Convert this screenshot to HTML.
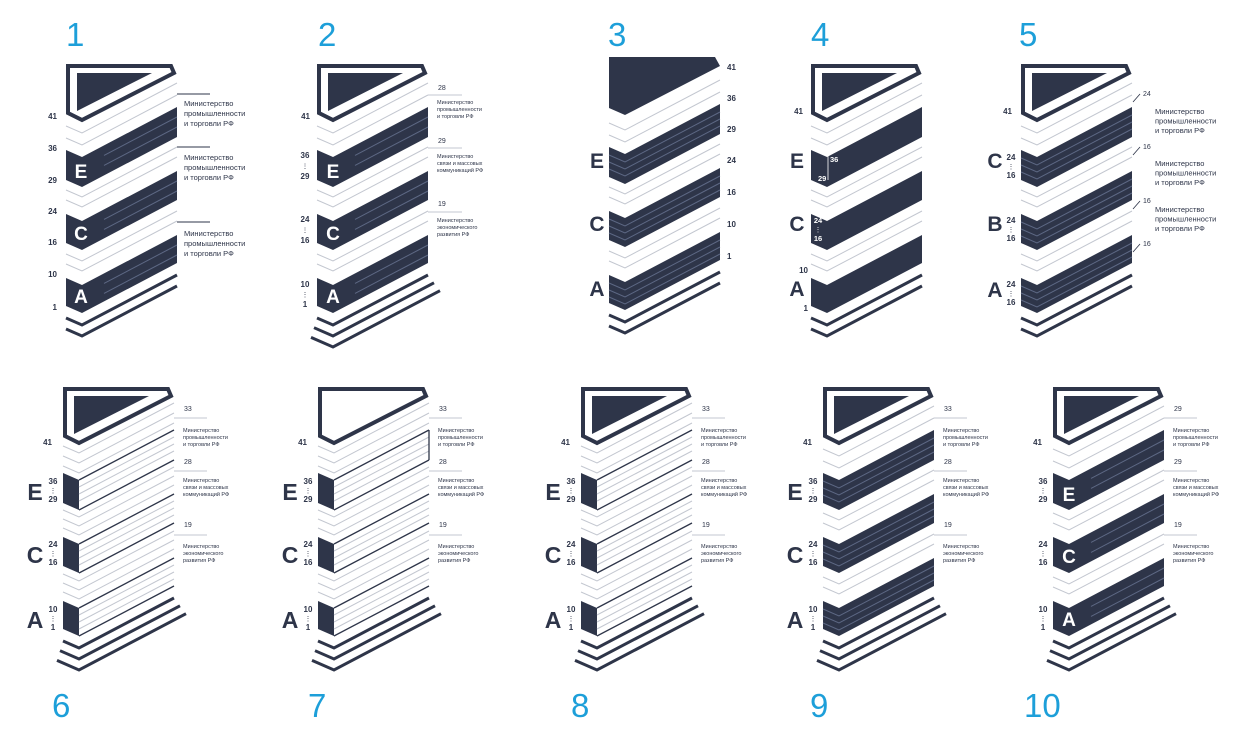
<!DOCTYPE html>
<html><head><meta charset="utf-8">
<style>
html,body{margin:0;padding:0;background:#fff;}
svg{display:block;}
text{font-family:"Liberation Sans",sans-serif;}
</style></head>
<body>
<svg id="s" width="1244" height="751" viewBox="0 0 1244 751" xmlns="http://www.w3.org/2000/svg"></svg>
<script>
var S=document.getElementById('s');
var D='#2e3549', G='#c3c7d0', L='#5d6884', B='#1d9fd9';
var K=50/95;
function el(n,a,txt){var e=document.createElementNS('http://www.w3.org/2000/svg',n);for(var k in a)e.setAttribute(k,a[k]);if(txt!==undefined)e.textContent=txt;S.appendChild(e);return e;}
function pl(pts,st,w){el('polyline',{points:pts,fill:'none',stroke:st,'stroke-width':w});}
function pg(pts,f,st,w){var a={points:pts,fill:f};if(st){a.stroke=st;a['stroke-width']=w;}el('polygon',a);}
function t(x,y,s,sz,fill,anc,wt){el('text',{x:x,y:y,'font-size':sz,fill:fill||D,'text-anchor':anc||'start','font-weight':wt||'bold'},s);}
function chev(x0,v,xl,xr){var xv=x0+16;xl=(xl===undefined)?x0:xl;xr=xr||x0+111;return xl+','+(v-7*(xv-xl)/16)+' '+xv+','+v+' '+xr+','+(v-K*(xr-xv));}
function arm(x0,v,xa,xr){var xv=x0+16;return xa+','+(v-K*(xa-xv))+' '+xr+','+(v-K*(xr-xv));}

function panel(o){
 var x0=o.x, oy=o.oy, xv=x0+16, xr=x0+111;
 if(o.cap==='solid'){
   pg(x0+','+(60+oy)+' '+(x0+106)+','+(60+oy)+' '+(x0+111)+','+(69+oy)+' '+xv+','+(118+oy)+' '+x0+','+(111+oy),D);
 } else {
   pg((x0+2)+','+(66+oy)+' '+(x0+105)+','+(66+oy)+' '+(x0+108)+','+(73+oy)+' '+xv+','+(120+oy)+' '+(x0+2)+','+(113+oy),'#fff',D,4);
   if(o.cap==='tri') pg((x0+11)+','+(73+oy)+' '+(x0+86)+','+(73+oy)+' '+(x0+11)+','+(111+oy),D);
 }
 var gaps=[133,145,197,207,261,271];
 if(o.style==='leftdark') gaps=[130,140,150,194,203,212,258,267,276];
 gaps.forEach(function(v){pl(chev(x0,v+oy),G,1);});
 var bands=[[157,187],[221,250],[285,313]];
 bands.forEach(function(b,i){
   var tp=b[0]+oy, bt=b[1]+oy;
   if(o.style==='leftdark'){
     pg(x0+','+(tp-7)+' '+xv+','+tp+' '+xv+','+bt+' '+x0+','+(bt-7),D);
     [7,14,21].forEach(function(d){pl(arm(x0,tp+d,xv,xr),G,1);});
     pl(arm(x0,tp,xv,xr),D,1.3);pl(arm(x0,bt,xv,xr),D,1.3);
     if(o.box&&i===0){pl(xr+','+(tp-K*95)+' '+xr+','+(bt-K*95),D,1.3);}
   } else {
     pg(x0+','+(tp-7)+' '+xv+','+tp+' '+xr+','+(tp-K*95)+' '+xr+','+(bt-K*95)+' '+xv+','+bt+' '+x0+','+(bt-7),D);
     if(o.style==='dark2'){[10,20].forEach(function(d){pl(arm(x0,tp+d,xv+22,xr),L,1);});}
     if(o.style==='dark3'){[8,15,22].forEach(function(d){pl(chev(x0,tp+d),L,1);});}
   }
 });
 if(o.n===2){[325,336].forEach(function(v){pl(chev(x0,v+oy),D,3);});}
 else{[[325,0,0],[336,3,6],[347,6,12]].forEach(function(a){pl(chev(x0,a[0]+oy,x0-a[1],xr+a[2]),D,3);});}
}

panel({x:66,oy:0,cap:'tri',style:'dark2',n:2});
panel({x:317,oy:0,cap:'tri',style:'dark2',n:3});
panel({x:609,oy:-3,cap:'solid',style:'dark3',n:2});
panel({x:811,oy:0,cap:'tri',style:'dark',n:2});
panel({x:1021,oy:0,cap:'tri',style:'dark3',n:2});
panel({x:63,oy:323,cap:'tri',style:'leftdark',n:3});
panel({x:318,oy:323,cap:'outline',style:'leftdark',n:3,box:true});
panel({x:581,oy:323,cap:'tri',style:'leftdark',n:3});
panel({x:823,oy:323,cap:'tri',style:'dark3',n:3});
panel({x:1053,oy:323,cap:'tri',style:'dark2',n:3});

[['1',66,46],['2',318,46],['3',608,46],['4',811,46],['5',1019,46],['6',52,717],['7',308,717],['8',571,717],['9',810,717],['10',1024,717]].forEach(function(a){t(a[1],a[2],a[0],33,B,'start','normal');});

var M1=['Министерство','промышленности','и торговли РФ'];
var M2=['Министерство','связи и массовых','коммуникаций РФ'];
var M3=['Министерство','экономического','развития РФ'];
function lab(x,y,lines,sz,dy){lines.forEach(function(s,i){t(x,y+i*dy,s,sz,D,'start','normal');});}
function hl(x1,x2,y,c){pl(x1+','+y+' '+x2+','+y,c||G,1);}

[['41',119],['36',151],['29',183],['24',214],['16',245],['10',277],['1',310]].forEach(function(a){t(57,a[1],a[0],8,D,'end');});
t(81,178,'E',19,'#fff','middle');t(81,240,'C',19,'#fff','middle');t(81,303,'A',19,'#fff','middle');
hl(177,210,94,D);hl(177,210,147,D);hl(177,210,222,D);
lab(184,106,M1,7.5,10);lab(184,160,M1,7.5,10);lab(184,236,M1,7.5,10);

function stack(x,y1,a,b,gap){t(x,y1,a,8,D,'middle');t(x,y1+gap/2,'⋮',7,D,'middle','normal');t(x,y1+gap,b,8,D,'middle');}
t(310,119,'41',8,D,'end');
stack(305,158,'36','29',21);stack(305,222,'24','16',21);stack(305,287,'10','1',20);
t(333,178,'E',19,'#fff','middle');t(333,240,'C',19,'#fff','middle');t(333,303,'A',19,'#fff','middle');
function rlab(xr,oy){
 hl(xr,xr+34,95+oy);hl(xr,xr+34,148+oy);hl(xr,xr+34,212+oy);
 t(xr+10,90+oy,'28',7,D,'start','normal');t(xr+10,143+oy,'29',7,D,'start','normal');t(xr+10,206+oy,'19',7,D,'start','normal');
 lab(xr+9,104+oy,M1,5.5,7);lab(xr+9,158+oy,M2,5.5,7);lab(xr+9,222+oy,M3,5.5,7);
}
rlab(428,0);

[['41',70],['36',101],['29',132],['24',163],['16',195],['10',227],['1',259]].forEach(function(a){t(727,a[1],a[0],8,D,'start');});
t(597,168,'E',21,D,'middle');t(597,231,'C',21,D,'middle');t(597,296,'A',21,D,'middle');

t(797,168,'E',21,D,'middle');t(797,231,'C',21,D,'middle');t(797,296,'A',21,D,'middle');
t(803,114,'41',8,D,'end');t(808,273,'10',8,D,'end');t(808,311,'1',8,D,'end');
pl('828,150 828,180','#fff',0.8);
t(830,162,'36',7.5,'#fff','start');t(818,181,'29',7.5,'#fff','start');
t(818,223,'24',7.5,'#fff','middle');t(818,232,'⋮',7,'#fff','middle','normal');t(818,241,'16',7.5,'#fff','middle');

t(995,168,'C',21,D,'middle');t(995,231,'B',21,D,'middle');t(995,297,'A',21,D,'middle');
t(1012,114,'41',8,D,'end');
stack(1011,160,'24','16',18);stack(1011,223,'24','16',18);stack(1011,287,'24','16',18);
[[96,'24'],[149,'16'],[203,'16'],[246,'16']].forEach(function(a){pl('1133,'+(a[0]+6)+' 1140,'+(a[0]-2),D,0.8);t(1143,a[0],a[1],7,D,'start','normal');});
lab(1155,114,M1,7.5,9.5);lab(1155,166,M1,7.5,9.5);lab(1155,212,M1,7.5,9.5);

function brow(x0,letIn){
 var xr=x0+111;
 t(x0-11,445,'41',8,D,'end');
 stack(x0-10,484,'36','29',18);stack(x0-10,547,'24','16',18);stack(x0-10,612,'10','1',18);
 if(letIn){t(x0+16,501,'E',19,'#fff','middle');t(x0+16,563,'C',19,'#fff','middle');t(x0+16,626,'A',19,'#fff','middle');}
 else{t(x0-28,500,'E',23,D,'middle');t(x0-28,563,'C',23,D,'middle');t(x0-28,628,'A',23,D,'middle');}
 hl(xr,xr+33,418,G);hl(xr,xr+33,471,G);hl(xr,xr+33,535,G);
 t(xr+10,411,letIn?'29':'33',7,D,'start','normal');t(xr+10,464,letIn?'29':'28',7,D,'start','normal');t(xr+10,527,'19',7,D,'start','normal');
 lab(xr+9,432,M1,5.5,7);lab(xr+9,482,M2,5.5,7);lab(xr+9,548,M3,5.5,7);
}
brow(63,false);brow(318,false);brow(581,false);brow(823,false);brow(1053,true);
</script>
</body></html>
